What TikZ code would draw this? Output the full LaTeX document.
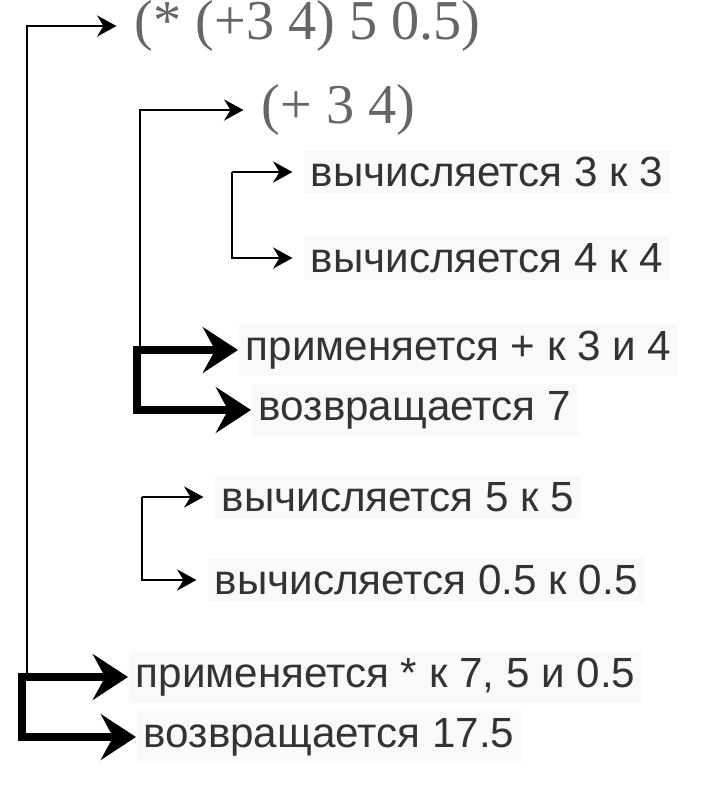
\documentclass[tikz,border=0pt]{standalone}
\usepackage{fontspec}
\setmainfont{Liberation Serif}
\setsansfont{Liberation Sans}
\usetikzlibrary{arrows.meta,calc}
\begin{document}
\begin{tikzpicture}
[x=0.01cm,y=-0.01cm,
expr/.style={anchor=west,inner sep=2pt,text=black!60,font=\fontsize{16}{18}\selectfont},
stepbox/.style={anchor=west,inner sep=2pt,fill=black!2.5,text=black!80,font=\sffamily\fontsize{12}{14}\selectfont},
thinline/.style={line width=0.6pt},
thinarrow/.style={line width=0.6pt,-{Stealth[length=5.5pt,width=6pt,inset=1.8pt]},shorten >=3pt},
fatarrow/.style={line width=2.2pt,line cap=rect,-{Stealth[length=10pt,width=13pt,inset=3.5pt]}}]
\useasboundingbox (0,0) rectangle (710,793);
%%
\node (top) [expr] at (127,26) {(* (+3 4) 5 0.5)};
\node (sub) [expr] at (254,110) {(+ 3 4)};
\node (e3) [stepbox] at (303,172) {вычисляется 3 к 3};
\node (e4) [stepbox] at (303,258) {вычисляется 4 к 4};
\node (app1) [stepbox] at (238,350) {применяется + к 3 и 4};
\node (ret1) [stepbox] at (251,410) {возвращается 7};
\node (e5) [stepbox] at (214,497) {вычисляется 5 к 5};
\node (e05) [stepbox] at (207,580) {вычисляется 0.5 к 0.5};
\node (app2) [stepbox] at (128,677) {применяется * к 7, 5 и 0.5};
\node (ret2) [stepbox] at (136,737) {возвращается 17.5};
%%
\coordinate (t1) at (27,677);
\coordinate (k1) at (22,677);
\coordinate (t2) at (140,350);
\coordinate (k2) at (137,350);
\coordinate (b1) at (232,172);
\coordinate (b2) at (142,497);
%%
\draw[thinarrow] (t1) |- (top.west);
\draw[thinarrow] (t2) |- (sub.west);
\draw[thinarrow] (b1) -- (e3.west);
\draw[thinarrow] (b1) |- (e4.west);
\draw[thinarrow] (b2) -- (e5.west);
\draw[thinarrow] (b2) |- (e05.west);
\draw[fatarrow] (k2) -- (app1.west);
\draw[fatarrow] (k2) |- (ret1.west);
\draw[fatarrow] (k1) -- (app2.west);
\draw[fatarrow] (k1) |- (ret2.west);
\end{tikzpicture}
\end{document}
